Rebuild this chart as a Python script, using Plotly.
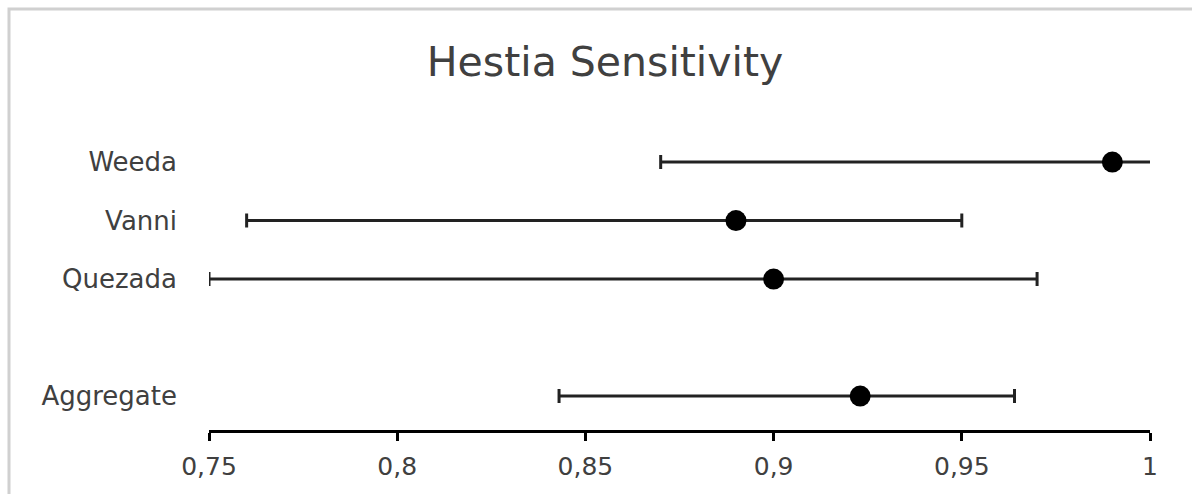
import plotly.graph_objects as go

studies = ["Weeda", "Vanni", "Quezada", "Aggregate"]
sensitivity = [0.99, 0.89, 0.90, 0.923]
ci_lower = [0.87, 0.76, 0.75, 0.843]
ci_upper = [1.03, 0.95, 0.97, 0.964]
category_order = ["Aggregate", " ", "Quezada", "Vanni", "Weeda"]
x_ticks = [0.75, 0.8, 0.85, 0.9, 0.95, 1.0]

err_plus = [u - s for u, s in zip(ci_upper, sensitivity)]
err_minus = [s - l for s, l in zip(sensitivity, ci_lower)]

fig = go.Figure()
fig.add_trace(go.Scatter(
    x=sensitivity, y=studies, mode="markers",
    marker=dict(color="black", size=21),
    error_x=dict(type="data", symmetric=False, array=err_plus, arrayminus=err_minus,
                 color="#222222", thickness=3, width=7),
    showlegend=False, cliponaxis=True,
))

L, R, T, B = 209, 42, 110, 64
W, H = 1192, 494
pw, ph = W - L - R, H - T - B
FONT = "DejaVu Sans"

fig.update_layout(
    width=W, height=H,
    margin=dict(l=L, r=R, t=T, b=B),
    paper_bgcolor="white", plot_bgcolor="white",
    separators=",.",
    font=dict(family=FONT, color="#404040", size=25),
    title=dict(text="Hestia Sensitivity", x=605 / W, xanchor="center", y=1 - 62 / H, yanchor="middle",
               font=dict(size=41, color="#404040", family=FONT)),
    xaxis=dict(range=[0.75, 1.0], tickvals=x_ticks, showgrid=False, zeroline=False,
               showline=True, linecolor="black", linewidth=3,
               ticks="outside", ticklen=8, tickwidth=3, tickcolor="black",
               tickfont=dict(size=25, color="#404040", family=FONT), ticklabelstandoff=4),
    yaxis=dict(type="category", categoryorder="array", categoryarray=category_order,
               range=[-0.58, 4.89], showgrid=False, zeroline=False, showline=False,
               ticks="", tickfont=dict(size=26, color="#404040", family=FONT), ticklabelstandoff=31),
    shapes=[dict(type="rect", xref="paper", yref="paper",
                 x0=(9 - L) / pw, x1=(W + 20 - L) / pw,
                 y0=-(B + 20) / ph, y1=(H - B - 9) / ph,
                 line=dict(color="#d0d0d0", width=3), fillcolor="rgba(0,0,0,0)", layer="below")],
)

fig.write_html("out.html")
